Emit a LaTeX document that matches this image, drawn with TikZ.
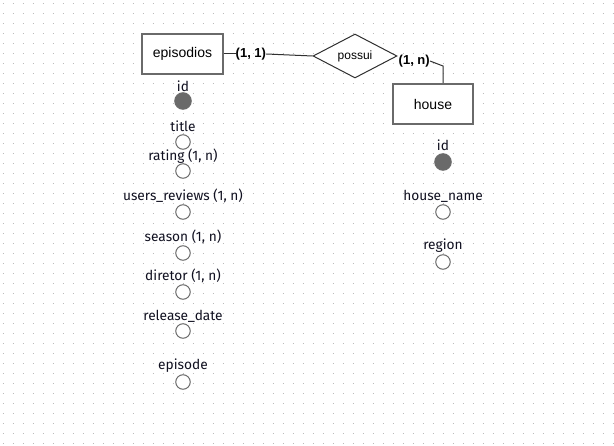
\documentclass[tikz,border=0pt]{standalone}
\usepackage{fontspec}
\setmainfont{Fira Sans}
\newfontfamily\arialf{Liberation Sans}
\usetikzlibrary{shapes.geometric}
\definecolor{dotc}{HTML}{BBBBBB}
\definecolor{boxc}{HTML}{6A6A6A}
\definecolor{linec}{HTML}{303030}
\definecolor{txtc}{HTML}{101020}
\tikzset{
  entity/.style={draw=boxc, line width=2pt, fill=white, minimum width=81pt, minimum height=40pt, inner sep=0pt, font=\arialf\fontsize{14}{16}\selectfont, text=black},
  rel/.style={draw=linec, line width=1pt, fill=white, diamond, aspect=1.9, minimum width=84pt, minimum height=44pt, inner sep=0pt, font=\arialf\fontsize{12}{14}\selectfont},
  card/.style={inner sep=0pt, font=\arialf\bfseries\fontsize{13}{15}\selectfont},
  attr/.style={circle, draw=boxc, line width=1pt, fill=white, minimum size=14.5pt, inner sep=0pt},
  keyattr/.style={circle, draw=boxc, line width=1pt, fill=boxc, minimum size=16.5pt, inner sep=0pt},
  alabel/.style={inner sep=0pt, font=\fontsize{13.7}{15}\selectfont, text=txtc},
  conn/.style={draw=linec, line width=1pt},
}
\begin{document}
\begin{tikzpicture}[x=1pt,y=-1pt]
\useasboundingbox (0,0) rectangle (614,446);
\fill[white] (0,0) rectangle (614,446);
% grid of dots
\foreach \yy in {4,14,...,444}{
  \draw[dotc, line width=1pt, dash pattern=on 1pt off 9pt] (2.5,\yy) -- (614,\yy);
}
% entities
\node[entity] (ep) at (182.5,54) {episodios};
\node[entity, minimum width=80pt] (house) at (433,104) {house};
\node[rel] (pos) at (355,56) {possui};
\node[card, anchor=west] (c1) at (235.5,54) {(1, 1)};
\node[card, anchor=west] (cn) at (398.5,61) {(1, n)};
\coordinate (hc) at (443,66);
\draw[conn] (ep.east) -- (c1.west);
\draw[conn] (c1.east) -- (pos.west);
\draw[conn] (cn.east) -- (hc) -- (hc |- house.north);
% episodios attributes
\node[keyattr] (a0) at (183,101) {};
\node[alabel] (l0) at (183,86) {id};
\node[attr] (a1) at (183,142) {};
\node[alabel] (l1) at (183,126) {title};
\node[attr] (a2) at (183,171) {};
\node[alabel] (l2) at (183,156) {rating (1, n)};
\node[attr] (a3) at (183,212) {};
\node[alabel] (l3) at (183,196) {users\_reviews (1, n)};
\node[attr] (a4) at (183,253) {};
\node[alabel] (l4) at (183,237) {season (1, n)};
\node[attr] (a5) at (183,292) {};
\node[alabel] (l5) at (183,276) {diretor (1, n)};
\node[attr] (a6) at (183,331) {};
\node[alabel] (l6) at (183,316) {release\_date};
\node[attr] (a7) at (183,382) {};
\node[alabel] (l7) at (183,366) {episode};
% house attributes
\node[keyattr] (b0) at (443,162) {};
\node[alabel] (m0) at (443,145) {id};
\node[attr] (b1) at (443,212) {};
\node[alabel] (m1) at (443,196) {house\_name};
\node[attr] (b2) at (443,262) {};
\node[alabel] (m2) at (443,246) {region};
\end{tikzpicture}
\end{document}
